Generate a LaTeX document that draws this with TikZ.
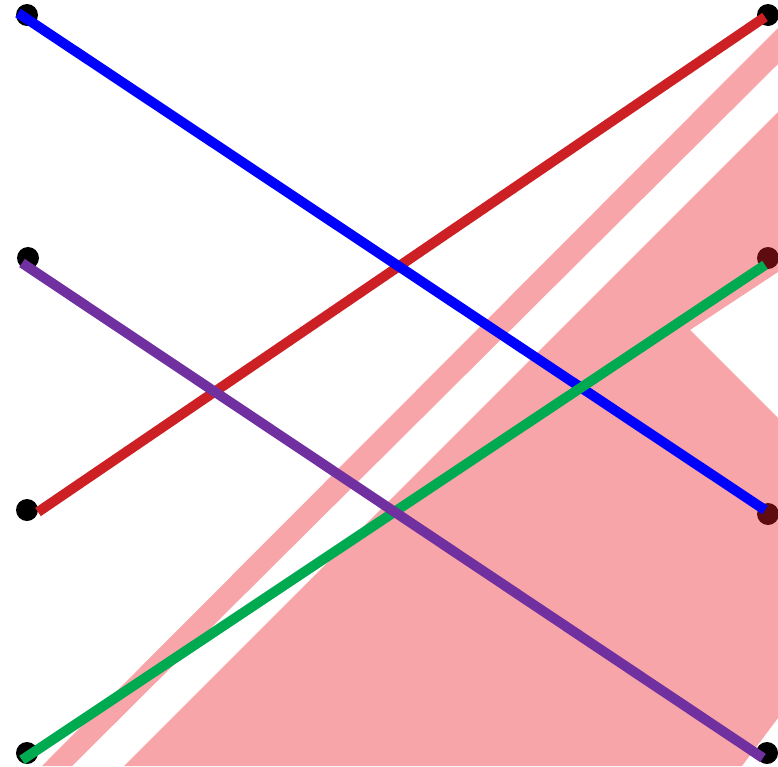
\documentclass[tikz,border=0pt]{standalone}
\usepackage{tikz}
\usetikzlibrary{calc}
\definecolor{lnblue}{RGB}{0,0,255}
\definecolor{lnred}{RGB}{204,32,36}
\definecolor{lngreen}{RGB}{0,170,80}
\definecolor{lnpurple}{RGB}{112,48,160}
\definecolor{pinkbase}{RGB}{238,30,40}
\tikzset{
  dotnode/.style={circle,fill=black,inner sep=0pt,minimum size=22pt},
  link/.style={line width=10pt,line cap=butt},
  band/.style={fill=pinkbase,fill opacity=0.4,draw=none}
}
\begin{document}
\begin{tikzpicture}[x=1pt,y=-1pt]
\useasboundingbox (0,0) rectangle (778,766);
\fill[white] (0,0) rectangle (778,766);
% dots
\node[dotnode] (l1) at (27,15) {};
\node[dotnode] (l2) at (28,258) {};
\node[dotnode] (l3) at (27,510) {};
\node[dotnode] (l4) at (27,753) {};
\node[dotnode] (r1) at (768,15) {};
\node[dotnode] (r2) at (768,258) {};
\node[dotnode] (r3) at (768,514) {};
\node[dotnode] (r4) at (767,753) {};
% pink shapes
\path[band] (42,766) -- (778,28) -- (778,64) -- (72,766) -- cycle;
\path[band] (124,766) -- (778,112) -- (778,272) -- (690,330) -- (778,418)
  -- (778,718) -- (742,766) -- cycle;
% line ends
\coordinate (b0) at ($(l1)+(-9,-2)$);
\coordinate (b1) at ($(r3)+(-3,-4)$);
\coordinate (e0) at ($(l3)+(11,2)$);
\coordinate (e1) at ($(r1)+(-3,2)$);
\coordinate (p0) at ($(l2)+(-6,5)$);
\coordinate (p1) at ($(r4)+(-4,5)$);
\coordinate (g0) at ($(l4)+(-5,7)$);
\coordinate (g1) at ($(r2)+(-3,7)$);
\draw[link,lnred] (e0) -- (e1);
\draw[link,lnblue] (b0) -- (b1);
\draw[link,lngreen] (g0) -- (g1);
\draw[link,lnpurple] (p0) -- (p1);
\end{tikzpicture}
\end{document}
